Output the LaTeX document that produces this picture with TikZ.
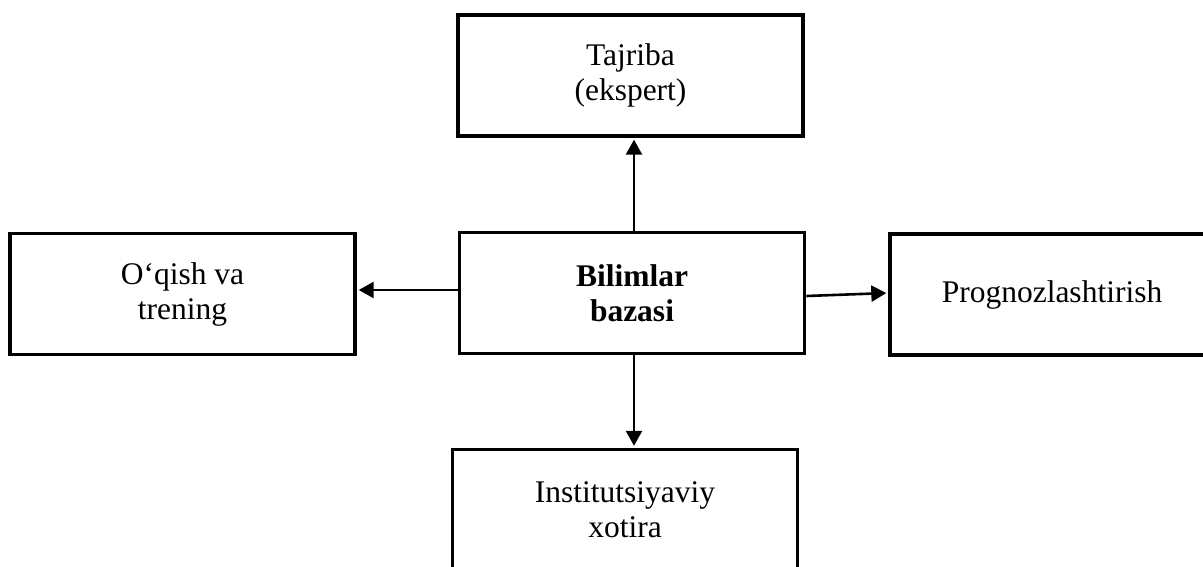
\documentclass[tikz,border=0pt]{standalone}
\usepackage{fontspec}
\setmainfont{Liberation Serif}
\usetikzlibrary{arrows.meta}
\begin{document}
\begin{tikzpicture}[x=1pt,y=-1pt,
  blockbox/.style={draw=black,line width=3.8pt,fill=white,inner sep=0pt,
    minimum width=345pt,minimum height=121pt,align=center,
    font=\fontsize{31.5pt}{35pt}\selectfont},
  link/.style={draw=black,line width=2.6pt,shorten >=1.8pt,
    -{Triangle[length=15pt,width=16pt]}}]
  \useasboundingbox (0,0) rectangle (1203,567);
  % knowledge base in the middle and the four areas around it
  \node[blockbox] (base) at (632,293) {\textbf{Bilimlar}\\\textbf{bazasi}};
  \node[blockbox] (exp) at (630.5,75.5) {Tajriba\\(ekspert)};
  \node[blockbox] (train) at (182.5,294) {O‘qish va\\trening};
  \node[blockbox,minimum width=324pt] (fore) at (1052,294.5) {Prognozlashtirish};
  \node[blockbox] (mem) at (625,510) {Institutsiyaviy\\xotira};
  % connectors from the knowledge base
  \draw[link] ([xshift=2pt]base.north) -- ([xshift=2pt]base.north |- exp.south);
  \draw[link] ([yshift=3pt]base.west) -- ([yshift=3pt]base.west -| train.east);
  \draw[link] ([yshift=-3pt]base.east) -- ([yshift=1.5pt]fore.west);
  \draw[link] ([xshift=2pt]base.south) -- ([xshift=2pt]base.south |- mem.north);
\end{tikzpicture}
\end{document}
